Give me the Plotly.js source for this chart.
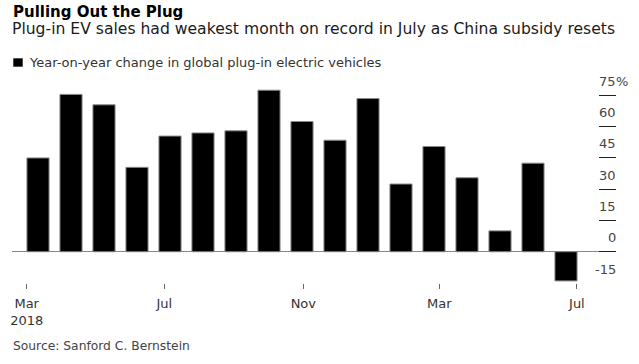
<!DOCTYPE html>
<html>
<head>
<meta charset="utf-8">
<script src="https://cdn.plot.ly/plotly-3.0.1.min.js"></script>
<style>html,body{margin:0;padding:0;background:#fff;}#chart{width:639px;height:364px;}</style>
</head>
<body>
<div id="chart"></div>
<script>
// ---- data ----
const months = ['Mar 2018','Apr 2018','May 2018','Jun 2018','Jul 2018','Aug 2018','Sep 2018','Oct 2018',
  'Nov 2018','Dec 2018','Jan 2019','Feb 2019','Mar 2019','Apr 2019','May 2019','Jun 2019','Jul 2019'];
const yoyChange = [45, 75.5, 70.5, 40.5, 55.5, 57, 58, 77.5, 62.5, 53.5, 73.5, 32.5, 50.5, 35.5, 10, 42.5, -14];
const xTickLabels = ['Mar<br>2018', 'Jul', 'Nov', 'Mar', 'Jul'];
const xTickPos = [-0.343, 3.827, 8.04, 12.16, 16.33];
const yTickVals = [-15, 0, 15, 30, 45, 60, 75];
const yTickText = ['-15', '0', '15', '30', '45', '60', '75'];
const yTopSuffix = '%';

const titleText = 'Pulling Out the Plug';
const subtitleText = 'Plug-in EV sales had weakest month on record in July as China subsidy resets';
const legendText = 'Year-on-year change in global plug-in electric vehicles';
const sourceText = 'Source: Sanford C. Bernstein';

// ---- layout helpers ----
const W = 639, H = 364;
const M = {l: 12, r: 23, t: 85, b: 81};
const plotW = W - M.l - M.r, plotH = H - M.t - M.b;
const px = x => (x - M.l) / plotW;
const py = y => (H - M.b - y) / plotH;
const FONT = 'DejaVu Sans, Liberation Sans, Arial, sans-serif';

const trace = {
  type: 'bar',
  x: months.map((_, i) => i),
  y: yoyChange,
  customdata: months,
  hovertemplate: '%{customdata}: %{y}%<extra></extra>',
  marker: {color: '#000000', line: {color: '#8a8a8a', width: 1}},
  showlegend: false
};

const annotations = [
  {text: '<b>' + titleText + '</b>', x: px(11), y: py(12.2), xanchor: 'left', yanchor: 'middle',
   font: {family: FONT, size: 15, color: '#000'}},
  {text: subtitleText, x: px(10), y: py(29), xanchor: 'left', yanchor: 'middle',
   font: {family: FONT, size: 15.6, color: '#1a1a1a'}},
  {text: legendText, x: px(27), y: py(62), xanchor: 'left', yanchor: 'middle',
   font: {family: FONT, size: 13, color: '#333'}},
  {text: sourceText, x: px(10.7), y: py(345.5), xanchor: 'left', yanchor: 'middle',
   font: {family: FONT, size: 12.3, color: '#444'}}
];
yTickVals.forEach((v, i) => {
  annotations.push({text: yTickText[i], xref: 'paper', yref: 'y', x: 1, y: v, xanchor: 'right',
    yanchor: 'middle', xshift: 2, yshift: 14, font: {family: FONT, size: 13, color: '#444'}});
});
annotations.push({text: yTopSuffix, xref: 'paper', yref: 'y', x: 1, y: yTickVals[yTickVals.length - 1],
  xanchor: 'left', yanchor: 'middle', xshift: -2, yshift: 14, font: {family: FONT, size: 13, color: '#444'}});
annotations.forEach(a => { a.showarrow = false; if (!a.xref) a.xref = 'paper'; if (!a.yref) a.yref = 'paper'; });

const layout = {
  width: W, height: H,
  margin: M,
  paper_bgcolor: '#fff', plot_bgcolor: '#fff',
  bargap: 0.33,
  font: {family: FONT},
  xaxis: {
    range: [-0.788, 17.515], tickmode: 'array', tickvals: xTickPos, ticktext: xTickLabels,
    ticks: 'outside', ticklen: 5, tickcolor: '#666', tickwidth: 1, ticklabelstandoff: 3,
    showgrid: false, zeroline: false, showline: false, fixedrange: true,
    tickfont: {family: FONT, size: 13, color: '#333'}
  },
  yaxis: {
    side: 'right', range: [-15, 80], tickmode: 'array', tickvals: yTickVals,
    showticklabels: false, ticks: 'inside', ticklen: 17, tickcolor: '#222', tickwidth: 1,
    showgrid: false, zeroline: true, zerolinecolor: '#888', zerolinewidth: 1.5, fixedrange: true
  },
  shapes: [{
    type: 'rect', xref: 'paper', yref: 'paper', xsizemode: 'pixel', ysizemode: 'pixel',
    xanchor: 0, yanchor: 1, x0: 1.3, x1: 10.7, y0: M.t - 66.7, y1: M.t - 58.3,
    fillcolor: '#000', line: {width: 0}
  }],
  annotations: annotations
};

Plotly.newPlot('chart', [trace], layout, {displayModeBar: false, staticPlot: true});
</script>
</body>
</html>
